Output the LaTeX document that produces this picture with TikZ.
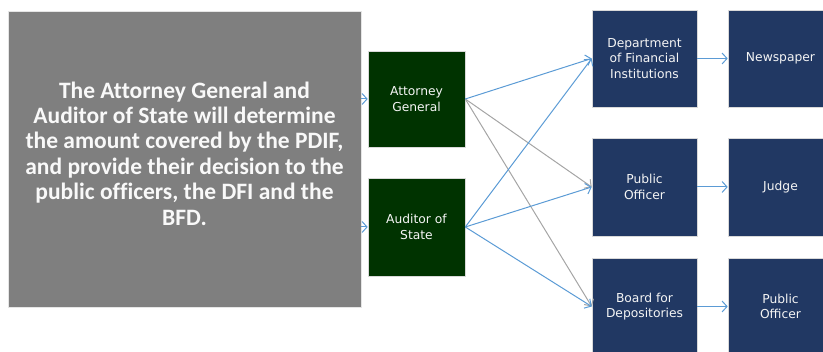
\documentclass[tikz,border=0pt]{standalone}
\usepackage{fontspec}
\setmainfont{DejaVu Sans}
\newfontfamily\calib[RawFeature=-liga]{Carlito}
\usetikzlibrary{arrows.meta}
\definecolor{graybox}{HTML}{7F7F7F}
\definecolor{greenbox}{HTML}{003300}
\definecolor{navybox}{HTML}{213863}
\definecolor{arrblue}{HTML}{5B9BD5}
\definecolor{arrgray}{HTML}{A5A5A5}
\tikzset{
  box/.style={draw=white!70!gray, line width=0.6pt, text=white!92!gray, align=center, inner sep=0pt, font=\fontsize{12.3}{15.7}\selectfont},
  gbox/.style={box, fill=greenbox, minimum width=97pt},
  nbox/.style={box, fill=navybox, minimum width=105pt},
  barr/.style={draw=arrblue, line width=1pt, -{Straight Barb[length=5pt,width=11pt]}},
  garr/.style={draw=arrgray, line width=1pt, -{Straight Barb[length=5pt,width=11pt]}},
}
\begin{document}
\begin{tikzpicture}[x=1pt,y=-1pt]
\useasboundingbox (0,0) rectangle (823,352);
\clip (0,0) rectangle (823,352);
\node[fill=graybox, draw=white!80!gray, line width=0.6pt, minimum width=353pt, minimum height=296pt, inner sep=0pt] (intro) at (184.5,159) {};
\node[inner sep=0pt, text=white!95!gray, align=center, font=\calib\bfseries\fontsize{23.5}{25.4}\selectfont] (introtext) at (184.5,153.5)
 {The Attorney General and\\Auditor of State will determine\\the amount covered by the PDIF,\\and provide their decision to the\\public officers, the DFI and the\\BFD.};
\node[gbox, minimum height=96pt] (ag) at (416.5,99) {Attorney\\General};
\node[gbox, minimum height=98pt] (as) at (416.5,227) {Auditor of\\State};
\node[nbox, minimum height=97pt] (dfi) at (644.5,58.5) {Department\\of Financial\\Institutions};
\node[nbox, minimum height=98pt] (po) at (644.5,187) {Public\\Officer};
\node[nbox, minimum height=97pt] (bfd) at (644.5,306.5) {Board for\\Depositories};
\node[nbox, minimum height=97pt] (news) at (780.5,58.5) {Newspaper};
\node[nbox, minimum height=98pt] (judge) at (780.5,187) {Judge};
\node[nbox, minimum height=97pt] (po2) at (780.5,306.5) {Public\\Officer};
\draw[barr] (intro.east |- ag.west) -- (ag.west);
\draw[barr] (intro.east |- as.west) -- (as.west);
\draw[garr] (ag.east) -- (po.west);
\draw[garr] (ag.east) -- (bfd.west);
\draw[barr] (ag.east) -- (dfi.west);
\draw[barr] (as.east) -- (dfi.west);
\draw[barr] (as.east) -- (po.west);
\draw[barr] (as.east) -- (bfd.west);
\draw[barr] (dfi.east) -- (news.west);
\draw[barr] (po.east) -- (judge.west);
\draw[barr] (bfd.east) -- (po2.west);
\end{tikzpicture}
\end{document}
